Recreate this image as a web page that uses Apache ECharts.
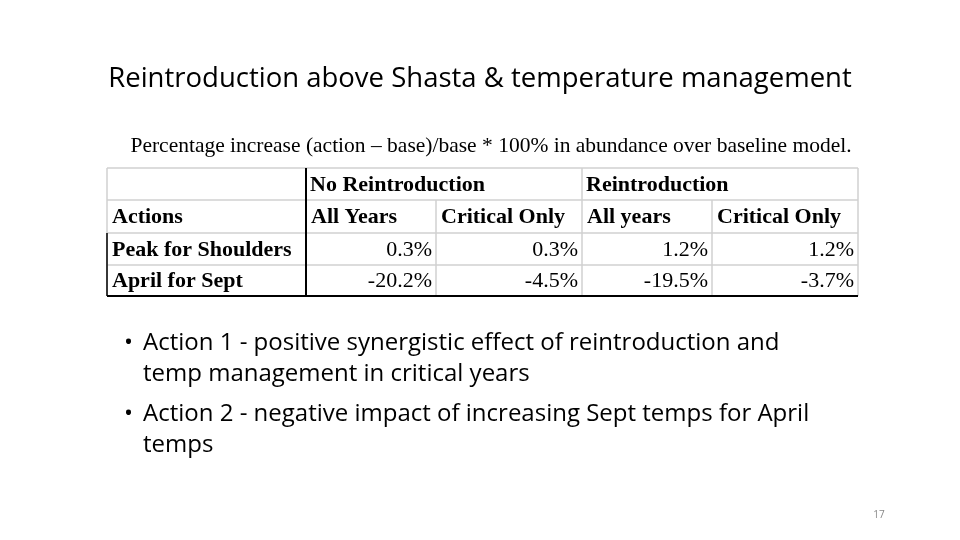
<!DOCTYPE html>
<html>
<head>
<meta charset="utf-8">
<script src="https://cdn.jsdelivr.net/npm/echarts@6/dist/echarts.min.js"></script>
<style>html,body{margin:0;background:#fff}#main{width:960px;height:540px}</style>
</head>
<body>
<div id="main"></div>
<script>
const title = "Reintroduction above Shasta & temperature management";
const caption = "Percentage increase (action – base)/base * 100% in abundance over baseline model.";
const groupHeaders = ["No Reintroduction", "Reintroduction"];
const colHeaders = ["Actions", "All Years", "Critical Only", "All years", "Critical Only"];
const actions = ["Peak for Shoulders", "April for Sept"];
const values = [
  ["0.3%", "0.3%", "1.2%", "1.2%"],
  ["-20.2%", "-4.5%", "-19.5%", "-3.7%"]
];
const bullets = [
  ["Action 1 - positive synergistic effect of reintroduction and", "temp management in critical years"],
  ["Action 2 - negative impact of increasing Sept temps for April", "temps"]
];
const pageNo = "17";

const colX = [107, 306, 436, 582, 712, 858];
const rowY = [168, 200, 233, 265, 296];
const serif = "'Liberation Serif', 'DejaVu Serif', serif";
const sans = "'Open Sans', 'Liberation Sans', sans-serif";

const els = [];
function line(x1, y1, x2, y2, c, w) {
  els.push({ type: "line", shape: { x1, y1, x2, y2 }, style: { stroke: c, lineWidth: w } });
}
function text(t, x, y, opt) {
  els.push({ type: "text", x, y, z: 2, style: Object.assign({ text: t, fill: "#000", verticalAlign: "middle" }, opt) });
}

const gray = "#d0d0d0";
for (let r = 0; r < rowY.length - 1; r++) line(colX[0], rowY[r], colX[5], rowY[r], gray, 1.5);
for (let c = 0; c < colX.length; c++) {
  if (c === 1) continue;
  const y1 = (c === 2 || c === 4) ? rowY[1] : rowY[0];
  line(colX[c], y1, colX[c], rowY[4], gray, 1.5);
}
line(colX[0], rowY[2], colX[0], rowY[4], "#000", 1.5);
line(colX[1], rowY[0], colX[1], rowY[4], "#000", 2);
line(colX[0], rowY[4], colX[5], rowY[4], "#000", 2);

const bold = { font: "bold 22px " + serif };
const reg = { font: "22px " + serif };
const mid = r => (rowY[r] + rowY[r + 1]) / 2 + 1;
text(groupHeaders[0], colX[1] + 4, mid(0), bold);
text(groupHeaders[1], colX[3] + 4, mid(0), bold);
colHeaders.forEach((h, i) => text(h, colX[i] + 5, mid(1), bold));
actions.forEach((a, r) => {
  text(a, colX[0] + 5, mid(r + 2), bold);
  values[r].forEach((v, c) => text(v, colX[c + 2] - 4, mid(r + 2), Object.assign({ align: "right" }, reg)));
});

text(title, 480, 79, { font: "27.5px " + sans, align: "center" });
text(caption, 491, 146, { font: "21.5px " + serif, align: "center" });
let by = 343;
bullets.forEach(b => {
  text("•", 124, by, { font: "24px " + sans });
  b.forEach((l, i) => text(l, 143, by + i * 31, { font: "24px " + sans }));
  by += 71;
});
text(pageNo, 879, 515, { font: "10px " + sans, fill: "#888", align: "center" });

const chart = echarts.init(document.getElementById("main"));
chart.setOption({ animation: false, graphic: { elements: els } });
</script>
</body>
</html>
